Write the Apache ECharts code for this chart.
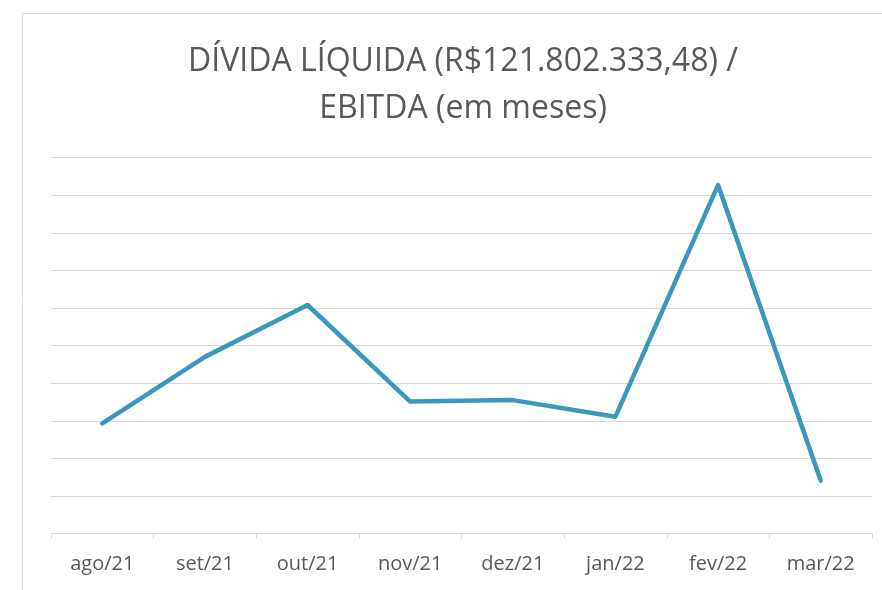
<!DOCTYPE html>
<html>
<head>
<meta charset="utf-8">
<script src="https://cdn.jsdelivr.net/npm/echarts@6/dist/echarts.min.js"></script>
<style>
html,body{margin:0;padding:0;background:#fff;}
#chart{width:882px;height:590px;}
</style>
</head>
<body>
<div id="chart"></div>
<script>
const categories = ['ago/21','set/21','out/21','nov/21','dez/21','jan/22','fev/22','mar/22'];
const values = [2.93, 4.70, 6.08, 3.51, 3.55, 3.11, 9.27, 1.41];
const titleLines = ['DÍVIDA LÍQUIDA (R$121.802.333,48) /', 'EBITDA (em meses)'];

const chart = echarts.init(document.getElementById('chart'), null, {renderer:'canvas'});
chart.setOption({
  animation: false,
  backgroundColor: '#ffffff',
  graphic: [{
    type: 'rect',
    shape: {x: 22.5, y: 13.5, width: 900, height: 600},
    style: {fill: 'none', stroke: '#d9d9d9', lineWidth: 1},
    silent: true
  }],
  title: {
    text: titleLines.join('\n'),
    left: 458,
    top: 33,
    textAlign: 'center',
    textStyle: {
      fontFamily: 'Open Sans',
      fontWeight: 'normal',
      fontSize: 32,
      lineHeight: 47,
      color: '#595959'
    }
  },
  grid: {left: 51, right: 10, top: 157.6, bottom: 56.4, containLabel: false},
  xAxis: {
    type: 'category',
    data: categories,
    boundaryGap: true,
    axisLine: {show: true, lineStyle: {color: '#d9d9d9', width: 1}},
    axisTick: {show: true, length: 5, interval: 0, lineStyle: {color: '#d9d9d9'}},
    axisLabel: {
      interval: 0, margin: 21,
      fontFamily: 'Open Sans', fontSize: 20, color: '#595959'
    }
  },
  yAxis: {
    type: 'value',
    min: 0, max: 10, interval: 1,
    axisLine: {show: false},
    axisTick: {show: false},
    axisLabel: {show: false},
    splitLine: {show: true, lineStyle: {color: '#d9d9d9', width: 1}}
  },
  series: [{
    type: 'line',
    data: values,
    symbol: 'none',
    lineStyle: {color: '#3a97bd', width: 4.5, cap: 'round', join: 'round'},
    itemStyle: {color: '#3a97bd'}
  }]
});
</script>
</body>
</html>
